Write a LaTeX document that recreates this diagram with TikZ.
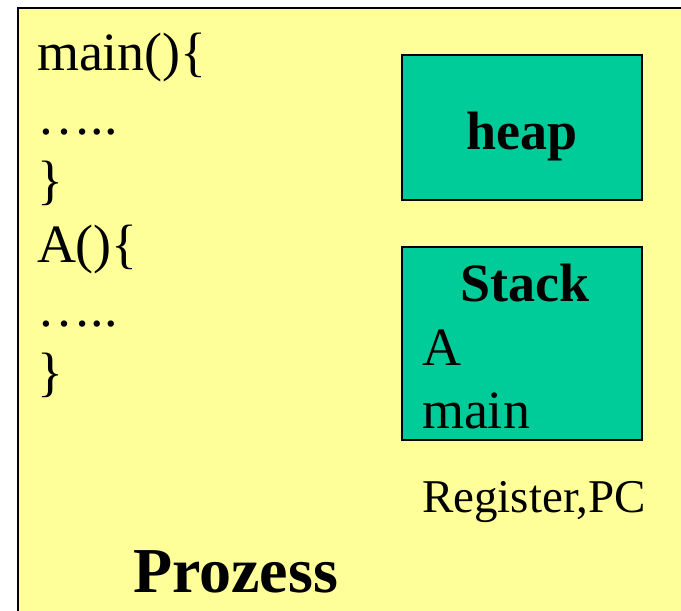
\documentclass[tikz,border=0pt]{standalone}
\usepackage{fontspec}
\setmainfont{Liberation Serif}
\definecolor{procyellow}{HTML}{FFFF99}
\definecolor{memgreen}{HTML}{00CC99}
\begin{document}
\begin{tikzpicture}[x=1pt,y=1pt,
  codetext/.style={anchor=base west,inner sep=0pt,outer sep=0pt,font=\fontsize{54}{64}\selectfont},
  membox/.style={draw=black,line width=2pt,fill=memgreen,inner sep=0pt,outer sep=0pt,minimum width=240pt,minimum height=145pt},
  boldtext/.style={inner sep=0pt,outer sep=0pt,font=\fontsize{54}{64}\selectfont\bfseries}]
\useasboundingbox (0,0) rectangle (681,611);
\clip (0,0) rectangle (681,611);
\fill[white] (0,0) rectangle (681,611);
\draw[line width=2.3pt,fill=procyellow] (18,603) rectangle (700,-20);
% code
\node[codetext] (l1) at (37,540) {main()\{};
\node[codetext] (l2) at (37,476) {…..};
\node[codetext] (l3) at (37,412) {\}};
\node[codetext] (l4) at (37,348) {A()\{};
\node[codetext] (l5) at (37,284) {…..};
\node[codetext] (l6) at (37,220) {\}};
% heap
\node[membox] (heap) at (522,483.5) {};
\node[boldtext,anchor=base] (heaplabel) at (522,461) {heap};
% stack
\node[membox,minimum height=193pt] (stack) at (522,267.5) {};
\node[boldtext,anchor=base] (stacklabel) at (525,309) {Stack};
\node[codetext] (sa) at (422,245) {A};
\node[codetext] (smain) at (422,182) {main};
\node[codetext,font=\fontsize{47}{56}\selectfont] (reg) at (422,98) {Register,PC};
\node[codetext,font=\fontsize{64}{76}\selectfont\bfseries] (proz) at (133,18) {Prozess};
\end{tikzpicture}
\end{document}
